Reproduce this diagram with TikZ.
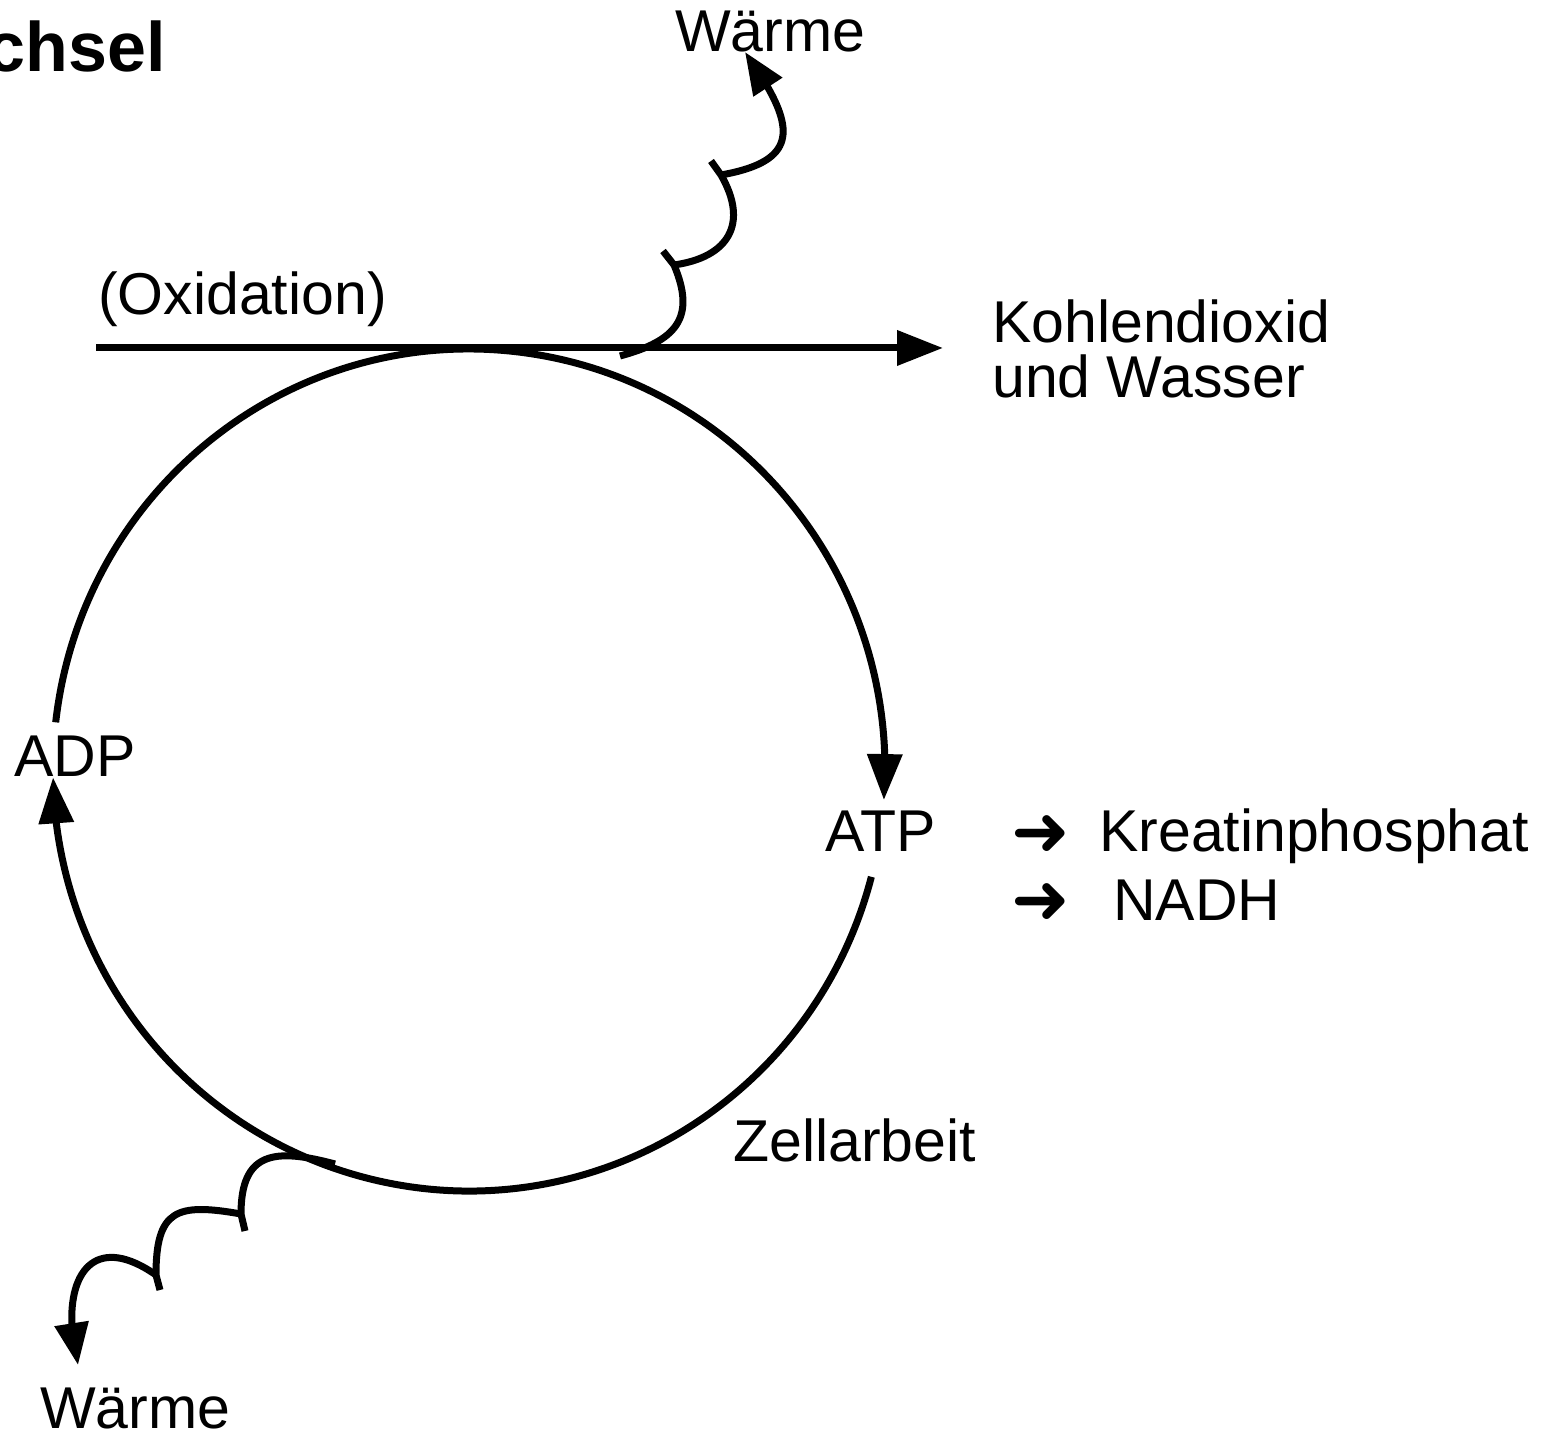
\documentclass[tikz,border=0pt]{standalone}
\usepackage{fontspec}
\setmainfont{Liberation Sans}
\newfontfamily\dejavu{DejaVu Sans}
\usepackage{tikz}
\usetikzlibrary{arrows.meta,bending,positioning,calc}
\tikzset{
txt/.style = {inner sep=0pt, anchor=base west, font=\fontsize{59}{56}\selectfont},
flow/.style = {line width=7pt},
tipped/.style = {flow, -{Triangle[length=46pt,width=34pt,flex]}},
wave/.style = {line width=7pt},
wavetip/.style = {wave, -{Triangle[length=42pt,width=33pt,flex]}},
sym/.style = {inner sep=0pt, font=\dejavu\fontsize{70}{70}\selectfont}
}
\begin{document}
\begin{tikzpicture}[x=1pt, y=1pt]
        \useasboundingbox (0,0) rectangle (1556,1434);
        \coordinate (mid) at (469,664);
        \coordinate (ox_start) at (96,1086);
        \coordinate (ox_end) at (943,1086);
        \node [txt, anchor=base east, font=\fontsize{70}{70}\selectfont\bfseries] (title) at (166,1362) {chsel};
        \node [txt] (ox) at (98,1119) {(Oxidation)};
        \node [txt] (co2) at (992,1091) {Kohlendioxid};
        \node [txt] (h2o) at ($(co2.base west)+(0,-55)$) {und Wasser};
        \node [txt] (heat_top) at (675,1382) {Wärme};
        \node [txt] (heat_bot) at (40,5) {Wärme};
        \node [txt] (adp) at (14,657) {ADP};
        \node [txt] (atp) at (825,582) {ATP};
        \node [txt] (kp) at (1099,582) {Kreatinphosphat};
        \node [txt] (nadh) at (1113,513) {NADH};
        \node [sym] (arr_kp) at (1041,598) {➜};
        \node [sym] (arr_nadh) at (1041,530) {➜};
        \node [txt] (work) at (733,272) {Zellarbeit};
        \draw [tipped] (ox_start) -- (ox_end);
        \draw [tipped] ($(mid)+(173.5:416 and 421)$) arc [start angle=173.5, end angle=-4.1, x radius=416, y radius=421];
        \draw [tipped] ($(mid)+(-14.7:416 and 421)$) arc [start angle=-14.7, end angle=-179, x radius=416, y radius=421];
        % heat at the top
        \coordinate (t0) at (620,1078);
        \coordinate (t1) at (674,1169);
        \coordinate (t1s) at (663,1183);
        \coordinate (t2) at (721,1259);
        \coordinate (t2s) at (711,1273);
        \coordinate (t3) at (745,1382);
        \draw [wave] (t0) to [out=15, in=-67, looseness=1.4] (t1) -- (t1s);
        \draw [wave] (t1) to [out=8, in=-60, looseness=1.4] (t2) -- (t2s);
        \draw [wavetip] (t2) to [out=10, in=-55, looseness=1.75] (t3);
        % heat at the bottom
        \coordinate (b0) at (335,270);
        \coordinate (b1) at (241,220);
        \coordinate (b1s) at (245,203);
        \coordinate (b2) at (156,159);
        \coordinate (b2s) at (160,144);
        \coordinate (b3) at (78,69);
        \draw [wave] (b0) to [out=165, in=90, looseness=1.5] (b1) -- (b1s);
        \draw [wave] (b1) to [out=170, in=90, looseness=1.6] (b2) -- (b2s);
        \draw [wavetip] (b2) to [out=145, in=104, looseness=1.8] (b3);
\end{tikzpicture}
\end{document}
